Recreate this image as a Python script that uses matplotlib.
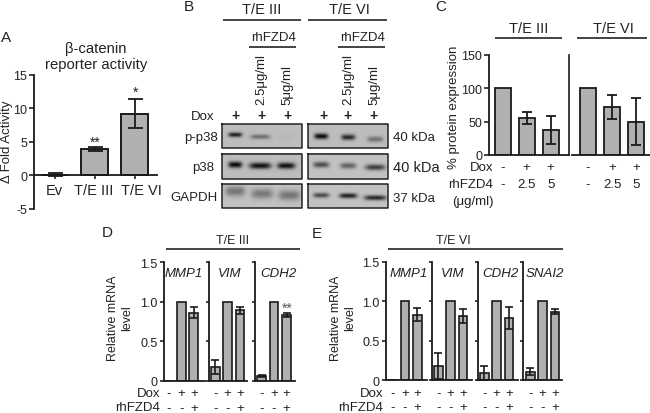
import matplotlib
matplotlib.use("Agg")
import matplotlib.pyplot as plt
import numpy as np

plt.rcParams["font.family"] = ["Liberation Sans", "DejaVu Sans"]
plt.rcParams["text.color"] = "#222222"
plt.rcParams["axes.edgecolor"] = "#1a1a1a"
plt.rcParams["xtick.color"] = "#222222"
plt.rcParams["ytick.color"] = "#222222"
plt.rcParams["axes.unicode_minus"] = False

# Panel A
a_labels = ["Ev", "T/E III", "T/E VI"]
a_values = [0.05, 3.9, 9.2]
a_errors = [0.25, 0.35, 2.2]

# Panel B, band strength per lane
b_pp38_3 = [0.85, 0.42, 0.03]
b_pp38_6 = [0.95, 0.8, 0.4]
b_p38_3 = [0.95, 0.92, 0.92]
b_p38_6 = [0.6, 0.5, 0.68]
b_gapdh_3 = [0.4, 0.38, 0.4]
b_gapdh_6 = [0.62, 0.85, 0.8]

# Panel C
c_dox = ["-", "+", "+"]
c_rh = ["-", "2.5", "5"]
c_values_3 = [100, 55, 38]
c_errors_3 = [0, 9, 21]
c_values_6 = [100, 72, 50]
c_errors_6 = [0, 18, 35]

# Panels D and E
mrna_dox = ["-", "+", "+"]
mrna_rh = ["-", "-", "+"]
d_genes = ["MMP1", "VIM", "CDH2"]
d_values = [[0, 1, 0.86], [0.18, 1, 0.89], [0.06, 1, 0.83]]
d_errors = [[0, 0, 0.07], [0.09, 0, 0.04], [0.015, 0, 0.025]]
e_genes = ["MMP1", "VIM", "CDH2", "SNAI2"]
e_values = [[0, 1, 0.83], [0.18, 1, 0.81], [0.09, 1, 0.79], [0.11, 1, 0.87]]
e_errors = [[0, 0, 0.08], [0.165, 0, 0.09], [0.09, 0, 0.14], [0.04, 0, 0.03]]

W, H = 650, 414
FS = 10
TICK_FS = 9
BAR_GREY = "#b0b0b0"
DARK = "#1a1a1a"

fig = plt.figure(figsize=(W / 100, H / 100), dpi=100)

# overlay in pixel coordinates, used for labels, rules and the blots
ov = fig.add_axes([0, 0, 1, 1], zorder=5)
ov.set_xlim(0, W)
ov.set_ylim(H, 0)
ov.axis("off")
ov.patch.set_alpha(0)


def px_axes(left, top, right, bottom):
    ax = fig.add_axes(
        [left / W, 1 - bottom / H, (right - left) / W, (bottom - top) / H]
    )
    ax.patch.set_alpha(0)
    for s in ["top", "right"]:
        ax.spines[s].set_visible(False)
    return ax


def label(x, y, s, ha="center", va="center", size=FS, **kw):
    ov.text(x, y, s, ha=ha, va=va, fontsize=size, **kw)


def rule(x0, x1, y, lw=1.2):
    ov.plot([x0, x1], [y, y], color="#222222", lw=lw, solid_capstyle="butt")


def sign_row(ax, labels, drop_px, size=FS):
    for i, s in enumerate(labels):
        ax.annotate(
            s,
            xy=(i, 0),
            xycoords=("data", "axes fraction"),
            xytext=(0, -drop_px * 0.72),
            textcoords="offset points",
            ha="center",
            va="center",
            fontsize=size,
        )


# A
ax = px_axes(34, 76, 157, 209.5)
x = np.arange(len(a_values))
ax.bar(x, a_values, 0.675, color=BAR_GREY, edgecolor=DARK, linewidth=1.4)
ax.errorbar(x, a_values, yerr=a_errors, fmt="none", ecolor=DARK, elinewidth=1.3,
            capsize=5.4, capthick=1.3)
ax.set_xlim(-0.5125, 2.5625)
ax.set_ylim(-5, 15)
ax.set_yticks([-5, 0, 5, 10, 15])
ax.spines["bottom"].set_position(("data", 0))
ax.spines["left"].set_linewidth(1.3)
ax.spines["bottom"].set_linewidth(1.3)
ax.set_xticks(x)
ax.set_xticklabels([])
ax.tick_params(axis="x", length=3, width=1.2)
ax.tick_params(axis="y", length=3.5, width=1.2, pad=1.5, labelsize=TICK_FS)
# the labels sit a little off their bars in the original
for cx, s in zip([54, 93.5, 141.5], a_labels):
    label(cx, 191, s, size=FS + 0.5)
label(6, 38, "A", size=FS + 1)
label(96, 57, "β-catenin\nreporter activity", size=FS + 0.7, linespacing=1.15)
label(7, 142, "Δ Fold Activity", rotation=90, size=9.5)
label(95, 143, "**")
label(135.5, 93, "*")

# B
label(189, 7, "B", size=FS + 1)
label(262, 10, "T/E III", size=FS + 0.5)
label(349, 10, "T/E VI", size=FS + 0.5)
rule(223, 301, 21)
rule(308, 387, 21)
label(274, 38, "rhFZD4", size=FS - 0.5)
label(363, 38, "rhFZD4", size=FS - 0.5)
rule(249, 296, 48)
rule(338, 385, 48)
for cx, s in zip([261, 287, 348, 374], ["2.5μg/ml", "5μg/ml"] * 2):
    label(cx, 105, s, va="bottom", rotation=90, size=FS - 0.5)
label(214, 117, "Dox", ha="right", size=FS - 0.5)
for cx in [236, 261, 287, 323, 348, 374]:
    label(cx, 116, "+", size=FS, weight="bold")
label(218, 138, "p-p38", ha="right", size=9.5)
label(214, 168, "p38", ha="right", size=9.5)
label(218, 198, "GAPDH", ha="right", size=9.5)
label(393, 138, "40 kDa", ha="left", size=9.5)
label(393, 168, "40 kDa", ha="left", size=FS + 0.5)
label(393, 199, "37 kDa", ha="left", size=9.5)


def blot(left, top, right, bottom, strengths, lanes, centres, widths, sig_y, bg):
    xx, yy = np.meshgrid(
        np.arange(left, right, 0.5), np.arange(top, bottom, 0.5)
    )
    img = np.full(xx.shape, bg)
    for s, cx, cy, w in zip(strengths, lanes, centres, widths):
        shape = np.exp(-(((xx - cx) / w) ** 4)) * np.exp(-(((yy - cy) / sig_y) ** 2))
        img = img - s * bg * shape
    ov.imshow(img, cmap="gray", vmin=0, vmax=1, extent=(left, right, bottom, top),
              interpolation="bilinear", aspect="auto", zorder=1)
    ov.plot([left, right, right, left, left], [top, top, bottom, bottom, top],
            color="#222222", lw=1.1, zorder=2)


lanes_3 = [235, 260, 286]
lanes_6 = [321, 348, 375]
blot(222, 125, 302, 149, b_pp38_3, lanes_3, [135.5, 137.5, 138], [7, 10, 8], 2.3, 0.74)
blot(308, 125, 388, 149, b_pp38_6, lanes_6, [137, 138, 140], [7, 7, 8], 2.8, 0.74)
blot(222, 155, 302, 180, b_p38_3, lanes_3, [166, 167, 167], [7, 11, 9], 3.0, 0.74)
blot(308, 155, 388, 180, b_p38_6, lanes_6, [166, 167, 168.5], [8, 8, 10], 2.8, 0.76)
blot(222, 185, 302, 209, b_gapdh_3, [235, 262, 289], [192, 194.5, 196], [10, 11, 11], 5, 0.76)
blot(308, 185, 388, 209, b_gapdh_6, lanes_6, [196, 196.5, 198.5], [8, 9, 11], 2.5, 0.76)
ov.set_xlim(0, W)
ov.set_ylim(H, 0)

# C
c_ax = px_axes(489.3, 56, 569.5, 156)
c_ax2 = px_axes(572, 56, 650, 156)
for a, vals, errs, first in [
    (c_ax, c_values_3, c_errors_3, 502.7),
    (c_ax2, c_values_6, c_errors_6, 588),
]:
    x = np.arange(len(vals))
    a.bar(x, vals, 16 / 24, color=BAR_GREY, edgecolor=DARK, linewidth=1.3)
    shown = [i for i, e in enumerate(errs) if e > 0]
    a.errorbar(x[shown], np.array(vals)[shown], yerr=np.array(errs)[shown], fmt="none",
               ecolor=DARK, elinewidth=1.3, capsize=3.6, capthick=1.3)
    box = a.get_position()
    a.set_xlim((box.x0 * W - first) / 24, (box.x1 * W - first) / 24)
    a.set_ylim(0, 150)
    a.set_xticks([])
    a.spines["bottom"].set_linewidth(1.3)
    sign_row(a, c_dox, 12, size=9.5)
    sign_row(a, c_rh, 29, size=9.5)
c_ax.set_yticks([0, 50, 100, 150])
c_ax.tick_params(axis="y", length=3.5, width=1.2, pad=1.5, labelsize=TICK_FS)
c_ax.spines["left"].set_linewidth(1.3)
c_ax.spines["right"].set_visible(True)
c_ax.spines["right"].set_linewidth(1.2)
c_ax2.spines["left"].set_visible(False)
c_ax2.set_yticks([])
label(441, 7, "C", size=FS + 1)
label(529, 29, "T/E III", size=FS + 0.5)
label(613, 29, "T/E VI", size=FS + 0.5)
rule(495, 562, 39)
rule(577, 647, 39)
label(454, 107, "% protein expression", rotation=90, size=9.5)
label(493, 168, "Dox", ha="right", size=FS - 0.5)
label(493, 185, "rhFZD4", ha="right", size=FS - 0.5)
label(473, 202, "(μg/ml)", size=FS - 0.5)


# D and E
def mrna_panel(genes, values, errors, spines, ends, offsets, title_x, top, bottom):
    for i, gene in enumerate(genes):
        a = px_axes(spines[i], top, ends[i], bottom)
        x = np.arange(3)
        a.bar(x, values[i], 8.7 / 12.4, color=BAR_GREY, edgecolor=DARK, linewidth=1.2)
        shown = [j for j, e in enumerate(errors[i]) if e > 0]
        a.errorbar(x[shown], np.array(values[i])[shown], yerr=np.array(errors[i])[shown],
                   fmt="none", ecolor=DARK, elinewidth=1.2, capsize=2.6, capthick=1.2)
        a.set_xlim(-offsets[i] / 12.4, (ends[i] - spines[i] - offsets[i]) / 12.4)
        a.set_ylim(0, 1.5)
        a.set_xticks([])
        a.set_yticks([0, 0.5, 1.0, 1.5])
        a.spines["left"].set_linewidth(1.3)
        a.spines["bottom"].set_linewidth(1.3)
        if i == 0:
            a.set_yticklabels(["0", "0.5", "1.0", "1.5"])
            a.tick_params(axis="y", length=3, width=1.2, pad=1.5, labelsize=TICK_FS)
        else:
            a.set_yticklabels([])
            a.tick_params(axis="y", length=2.5, width=1.2)
        sign_row(a, mrna_dox, 12.5, size=9.5)
        sign_row(a, mrna_rh, 27, size=9.5)
        label(title_x[i], 274, gene, style="italic", size=FS - 0.5)


mrna_panel(d_genes, d_values, d_errors, [164, 209, 255], [205, 247, 295], [5, 6.3, 6.7],
           [184, 230, 278], 263, 382)
label(107, 233, "D", size=FS + 1)
label(233, 241, "T/E III", size=9)
rule(166, 300, 250)
label(120, 318, "Relative mRNA\nlevel", rotation=90, linespacing=1.2, size=9)
label(160, 394, "Dox", ha="right", size=FS - 0.5)
label(160, 408.5, "rhFZD4", ha="right", size=FS - 0.5)
label(287, 309, "**", color="#555555")

mrna_panel(e_genes, e_values, e_errors, [386, 432.3, 477.7, 523.3],
           [427, 472, 518, 562], [6.5, 6, 6.6, 7], [409, 453, 500, 545], 262.7, 381.3)
label(317, 234, "E", size=FS + 1)
label(453, 241, "T/E VI", size=9)
rule(388, 563, 250)
label(343, 318, "Relative mRNA\nlevel", rotation=90, linespacing=1.2, size=9)
label(383, 394, "Dox", ha="right", size=FS - 0.5)
label(383, 408.5, "rhFZD4", ha="right", size=FS - 0.5)

fig.savefig("out.png", dpi=100)
